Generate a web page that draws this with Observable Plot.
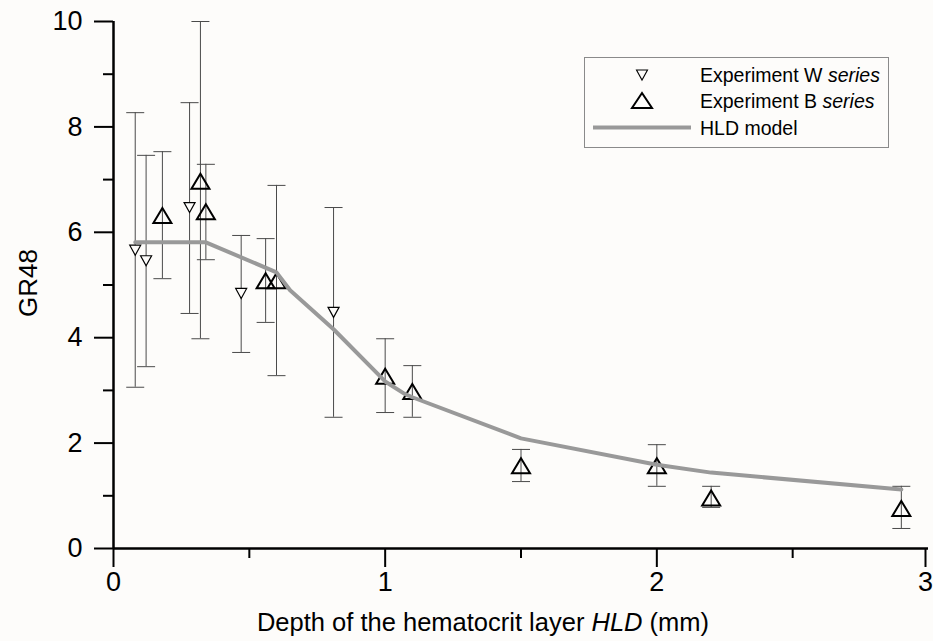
<!DOCTYPE html>
<html>
<head>
<meta charset="utf-8">
<script src="https://cdn.jsdelivr.net/npm/d3@7"></script>
<script src="https://cdn.jsdelivr.net/npm/@observablehq/plot@0.6"></script>
<style>
  body { margin: 0; background: #fdfcfa; }
  #chart { position: relative; width: 933px; height: 641px; font-family: "Liberation Sans", Arial, sans-serif; }
  #chart > svg { display: block; }
  #legend { position: absolute; left: 584px; top: 57px; }
</style>
</head>
<body>
<div id="chart"></div>
<script>
// Experiment W series: depth (mm), GR48 mean, error bar low / high
const wDepth = [0.08, 0.12, 0.28, 0.47, 0.81];
const wGR = [5.66, 5.46, 6.47, 4.84, 4.48];
const wLow = [3.06, 3.45, 4.46, 3.72, 2.49];
const wHigh = [8.27, 7.46, 8.46, 5.94, 6.47];

// Experiment B series
const bDepth = [0.18, 0.32, 0.34, 0.56, 0.60, 1.00, 1.10, 1.50, 2.00, 2.20, 2.90];
const bGR = [6.32, 6.97, 6.39, 5.08, 5.08, 3.27, 2.98, 1.57, 1.57, 0.96, 0.76];
const bLow = [5.12, 3.98, 5.48, 4.29, 3.28, 2.58, 2.49, 1.27, 1.18, 0.78, 0.38];
const bHigh = [7.53, 10.0, 7.29, 5.88, 6.89, 3.98, 3.47, 1.88, 1.97, 1.18, 1.18];

// HLD model curve
const modelDepth = [0.08, 0.34, 0.60, 0.65, 0.81, 1.00, 1.07, 1.10, 1.50, 2.00, 2.20, 2.90];
const modelGR = [5.81, 5.81, 5.24, 4.90, 4.16, 3.17, 2.94, 2.87, 2.09, 1.59, 1.44, 1.12];

// Axis ticks
const xMajor = [0, 1, 2];
const xLast = [3];
const xMinor = [0.5, 1.5, 2.5];
const yMajor = [0, 2, 4, 6, 8, 10];
const yMinor = [1, 3, 5, 7, 9];

const wRows = wDepth.map((x, i) => ({x, y: wGR[i], lo: wLow[i], hi: wHigh[i]}));
const bRows = bDepth.map((x, i) => ({x, y: bGR[i], lo: bLow[i], hi: bHigh[i]}));
const modelRows = modelDepth.map((x, i) => ({x, y: modelGR[i]}));

// Custom symbols: error-bar cap and open triangles centred on their box
const capSymbol = {draw(ctx) { ctx.moveTo(-9, 0); ctx.lineTo(9, 0); }};
function triangle(w, h, up) {
  return {draw(ctx) {
    const s = up ? 1 : -1;
    ctx.moveTo(0, -s * h / 2);
    ctx.lineTo(w / 2, s * h / 2);
    ctx.lineTo(-w / 2, s * h / 2);
    ctx.closePath();
  }};
}
const triUp = triangle(18, 15, true);
const triDown = triangle(11, 10, false);

const barColor = "#4a4a4a";
const modelColor = "#999999";
const allRows = wRows.concat(bRows);
const noLabel = () => "";
const intLabel = (d) => String(d);
const tickFont = 27;

const chart = Plot.plot({
  width: 933,
  height: 641,
  marginLeft: 113,
  marginRight: 5,
  marginTop: 21,
  marginBottom: 93,
  style: {fontFamily: "'Liberation Sans', Arial, sans-serif", background: "#fdfcfa", color: "black"},
  x: {domain: [0, 3]},
  y: {domain: [0, 10]},
  marks: [
    // error bars
    Plot.ruleX(allRows, {x: "x", y1: "lo", y2: "hi", stroke: barColor, strokeWidth: 1}),
    Plot.dot(allRows, {x: "x", y: "hi", symbol: capSymbol, stroke: barColor, strokeWidth: 1}),
    Plot.dot(allRows, {x: "x", y: "lo", symbol: capSymbol, stroke: barColor, strokeWidth: 1}),
    // measurements
    Plot.dot(wRows, {x: "x", y: "y", symbol: triDown, fill: "#fdfcfa", stroke: "black", strokeWidth: 1.2}),
    Plot.dot(bRows, {x: "x", y: "y", symbol: triUp, fill: "none", stroke: "black", strokeWidth: 2}),
    // model
    Plot.line(modelRows, {x: "x", y: "y", stroke: modelColor, strokeWidth: 4, strokeLinejoin: "round"}),
    // axes
    Plot.axisX({ticks: xMajor, tickSize: 19, tickPadding: 4, fontSize: tickFont, tickFormat: intLabel, label: null, strokeWidth: 2}),
    Plot.axisX({ticks: xLast, tickSize: 19, tickPadding: 4, fontSize: tickFont, tickFormat: intLabel, label: null, strokeWidth: 2, dx: -3}),
    Plot.axisX({ticks: xMinor, tickSize: 10, tickFormat: noLabel, label: null, strokeWidth: 2}),
    Plot.axisY({ticks: yMajor, tickSize: 19, tickPadding: 12, fontSize: tickFont, tickFormat: intLabel, label: null, strokeWidth: 2}),
    Plot.axisY({ticks: yMinor, tickSize: 10, tickFormat: noLabel, label: null, strokeWidth: 2}),
    Plot.ruleX([0], {stroke: "black", strokeWidth: 2.5}),
    Plot.ruleY([0], {stroke: "black", strokeWidth: 2.5})
  ]
});

// Axis titles (the x title mixes upright and italic text)
const svg = d3.select(chart);
const xTitle = svg.append("text")
  .attr("x", 483).attr("y", 631)
  .attr("text-anchor", "middle")
  .attr("font-size", 25.5)
  .attr("fill", "black");
xTitle.append("tspan").text("Depth of the hematocrit layer ");
xTitle.append("tspan").attr("font-style", "italic").text("HLD");
xTitle.append("tspan").text(" (mm)");

svg.append("text")
  .attr("transform", "translate(37,283) rotate(-90)")
  .attr("text-anchor", "middle")
  .attr("font-size", 26)
  .attr("fill", "black")
  .text("GR48");

const container = document.getElementById("chart");
container.appendChild(chart);

// Legend box inside the plot area
const legend = document.createElement("div");
legend.id = "legend";
legend.innerHTML = `
<svg width="306" height="92" font-family="'Liberation Sans', Arial, sans-serif" font-size="19.5">
  <rect x="0.5" y="0.5" width="304" height="90" fill="#fdfcfa" stroke="#8a8a8a" stroke-width="1"/>
  <path d="M52.5,13 L63.5,13 L58,23 Z" fill="none" stroke="black" stroke-width="1.1"/>
  <text x="116" y="25">Experiment W <tspan font-style="italic">series</tspan></text>
  <path d="M58,36 L68,51 L48,51 Z" fill="none" stroke="black" stroke-width="2"/>
  <text x="116" y="51">Experiment B <tspan font-style="italic">series</tspan></text>
  <line x1="9" y1="70.5" x2="107" y2="70.5" stroke="${modelColor}" stroke-width="4"/>
  <text x="116" y="78">HLD model</text>
</svg>`;
container.appendChild(legend);
</script>
</body>
</html>
